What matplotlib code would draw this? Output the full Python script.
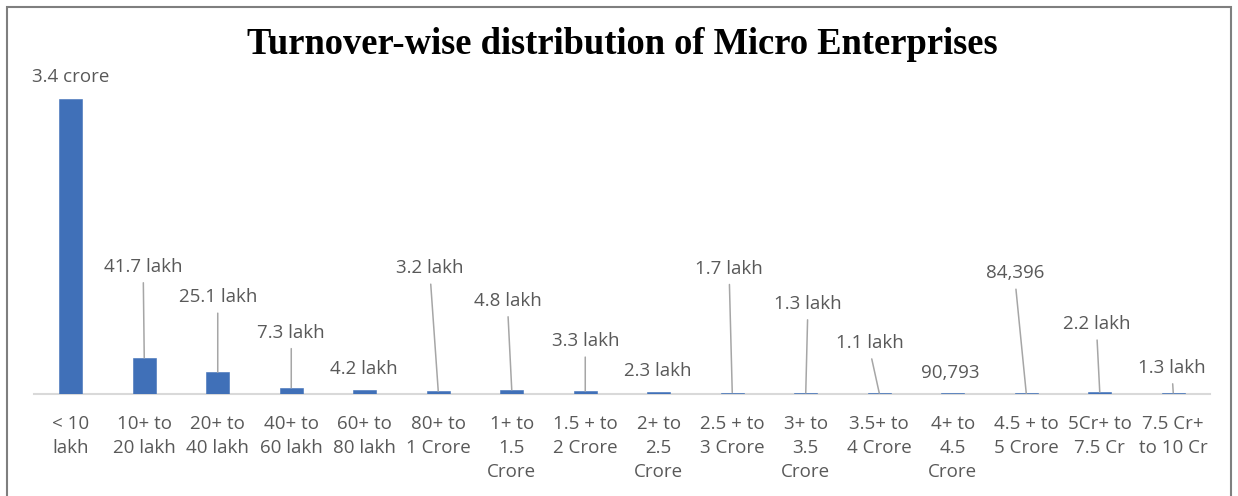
import matplotlib
matplotlib.use("Agg")
import matplotlib.pyplot as plt
from matplotlib.patches import Rectangle

categories = ["< 10\nlakh", "10+ to\n20 lakh", "20+ to\n40 lakh", "40+ to\n60 lakh",
              "60+ to\n80 lakh", "80+ to\n1 Crore", "1+ to\n1.5\nCrore", "1.5 + to\n2 Crore",
              "2+ to\n2.5\nCrore", "2.5 + to\n3 Crore", "3+ to\n3.5\nCrore", "3.5+ to\n4 Crore",
              "4+ to\n4.5\nCrore", "4.5 + to\n5 Crore", "5Cr+ to\n7.5 Cr", "7.5 Cr+\nto 10 Cr"]
# enterprises, in lakh
values = [340, 41.7, 25.1, 7.3, 4.2, 3.2, 4.8, 3.3, 2.3, 1.7, 1.3, 1.1, 0.90793, 0.84396, 2.2, 1.3]
labels = ["3.4 crore", "41.7 lakh", "25.1 lakh", "7.3 lakh", "4.2 lakh", "3.2 lakh", "4.8 lakh",
          "3.3 lakh", "2.3 lakh", "1.7 lakh", "1.3 lakh", "1.1 lakh", "90,793", "84,396",
          "2.2 lakh", "1.3 lakh"]

# label offsets from bar top (pixels) and whether a leader line is drawn
label_dx = [0, -1, 0, 0, -1, -8, -4, 0, -1, -3, 2, -9, -2, -11, -3, -1]
label_dy = [22, 91, 75, 55, 21, 123, 89, 50, 21, 124, 89, 50, 20, 120, 68, 25]
leader = [False, True, True, True, False, True, True, True, False, True, True, True, False, True, True, True]

W, H = 1238, 496
fig = plt.figure(figsize=(W / 100, H / 100), dpi=100)
fig.patch.set_facecolor("white")
fig.patches.append(Rectangle((7 / W, -0.05), (1231 - 7) / W, (H - 7) / H + 0.05,
                             transform=fig.transFigure, fill=False, edgecolor="#7f7f7f", lw=1.5))

ax = fig.add_axes([34 / W, (H - 394) / H, 1176 / W, (394 - 60) / H])
x = list(range(len(values)))
ax.bar(x, values, width=0.31, color="#4070B8", edgecolor="#4070B8", linewidth=0.4)
ax.set_xlim(-0.5, len(values) - 0.5)
ax.set_ylim(0, 340 * 334 / 295)

for s in ["top", "left", "right"]:
    ax.spines[s].set_visible(False)
ax.spines["bottom"].set_color("#d9d9d9")
ax.spines["bottom"].set_linewidth(1.5)
ax.spines["bottom"].set_zorder(0)
ax.set_yticks([])
ax.set_xticks(x)
ax.set_xticklabels(categories, fontfamily="Open Sans", fontsize=13.5, color="#595959",
                   linespacing=1.42, va="top")
ax.tick_params(axis="x", length=0, pad=15)

for i, v in enumerate(values):
    props = None
    if leader[i]:
        props = dict(arrowstyle="-", color="#a6a6a6", lw=1.1, shrinkA=3, shrinkB=0,
                     relpos=(0.5, 0.0))
    ax.annotate(labels[i], xy=(i, v), xytext=(label_dx[i], label_dy[i]),
                textcoords="offset pixels", ha="center", va="center",
                fontfamily="Open Sans", fontsize=13.5, color="#595959", arrowprops=props)

fig.text(622 / W, 1 - 45 / H, "Turnover-wise distribution of Micro Enterprises",
         ha="center", va="center", fontfamily="Liberation Serif", fontweight="bold",
         fontsize=26.3, color="black")

fig.savefig("out.png", dpi=100)
